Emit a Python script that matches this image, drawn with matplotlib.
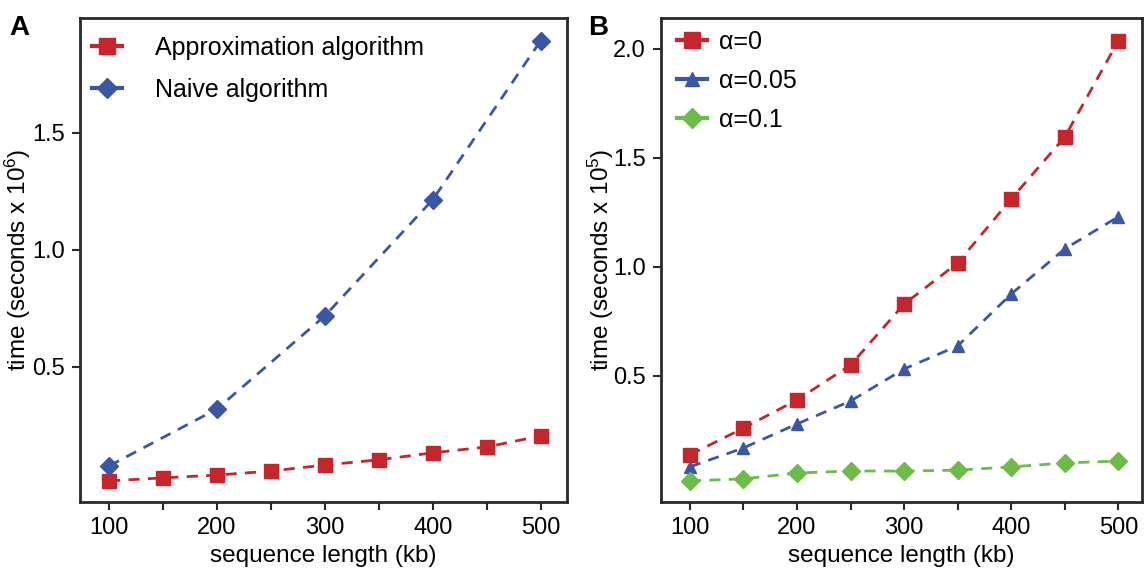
import numpy as np
import matplotlib
matplotlib.use("Agg")
import matplotlib.pyplot as plt

plt.rcParams['font.family'] = ['Liberation Sans', 'DejaVu Sans']
plt.rcParams['mathtext.default'] = 'regular'

# datos panel A (tiempo en segundos x 10^6)
len_naive = [100, 200, 300, 400, 500]
t_naive = [0.077, 0.32, 0.718, 1.214, 1.893]
len_aprox = [100, 150, 200, 250, 300, 350, 400, 450, 500]
t_aprox = [0.013, 0.026, 0.038, 0.055, 0.081, 0.103, 0.133, 0.158, 0.205]

# datos panel B (tiempo en segundos x 10^5)
len_b = [100, 150, 200, 250, 300, 350, 400, 450, 500]
t_a0 = [0.138, 0.261, 0.39, 0.55, 0.83, 1.018, 1.312, 1.596, 2.037]
t_a005 = [0.083, 0.17, 0.28, 0.385, 0.532, 0.638, 0.876, 1.083, 1.23]
t_a01 = [0.019, 0.028, 0.055, 0.064, 0.064, 0.068, 0.083, 0.101, 0.11]

xticks = [100, 150, 200, 250, 300, 350, 400, 450, 500]
xlabels = ['100', '', '200', '', '300', '', '400', '', '500']

rojo = '#c8242c'
azul = '#3a56a8'
verde = '#6bbd45'

fig = plt.figure(figsize=(11.47, 5.77), dpi=100)
axA = fig.add_axes([0.0697, 0.130, 0.4243, 0.839])
axB = fig.add_axes([0.5763, 0.130, 0.4193, 0.839])

def estilo(ax):
    for s in ax.spines.values():
        s.set_linewidth(2)
        s.set_color('#2a2a2a')
    ax.tick_params(direction='out', length=6, width=1.5, color='#2a2a2a', labelsize=17, pad=5)
    ax.set_xticks(xticks)
    ax.set_xticklabels(xlabels)
    ax.set_xlabel('sequence length (kb)', fontsize=17.5, labelpad=4)

def leyenda_solida(leg):
    # en la leyenda la linea se ve continua y mas gruesa
    for linea in leg.get_lines():
        linea.set_linestyle('-')
        linea.set_linewidth(3)

axA.plot(len_aprox, t_aprox, color=rojo, marker='s', markersize=10, linewidth=2,
         dashes=(4, 3), label='Approximation algorithm')
axA.plot(len_naive, t_naive, color=azul, marker='D', markersize=9, linewidth=2,
         dashes=(4, 3), label='Naive algorithm')
axA.set_xlim(73, 524)
axA.set_ylim(-0.077, 1.99)
axA.set_yticks([0.5, 1.0, 1.5])
axA.set_ylabel('time (seconds x 10$^6$)', fontsize=17.5)
axA.yaxis.set_label_coords(-0.097, 0.5)
estilo(axA)
legA = axA.legend(loc='upper left', bbox_to_anchor=(0.0, 0.988), frameon=False, fontsize=18,
                  handlelength=1.2, handletextpad=1.3, labelspacing=0.7, borderaxespad=0.3,
                  borderpad=0.2, markerscale=1.1)
leyenda_solida(legA)

axB.plot(len_b, t_a0, color=rojo, marker='s', markersize=10, linewidth=2,
         dashes=(4, 3), label='α=0')
axB.plot(len_b, t_a005, color=azul, marker='^', markersize=9, linewidth=2,
         dashes=(4, 3), label='α=0.05')
axB.plot(len_b, t_a01, color=verde, marker='D', markersize=9, linewidth=2,
         dashes=(4, 3), label='α=0.1')
axB.set_xlim(73, 522)
axB.set_ylim(-0.078, 2.142)
axB.set_yticks([0.5, 1.0, 1.5, 2.0])
axB.set_ylabel('time (seconds x 10$^5$)', fontsize=17.5)
axB.yaxis.set_label_coords(-0.094, 0.5)
estilo(axB)
legB = axB.legend(loc='upper left', bbox_to_anchor=(0.017, 0.99), frameon=False, fontsize=18,
                  handlelength=1.2, handletextpad=0.5, labelspacing=0.6, borderaxespad=0.1,
                  borderpad=0.2, markerscale=1.1)
leyenda_solida(legB)

fig.text(0.008, 0.974, 'A', fontsize=20, fontweight='bold', va='top')
fig.text(0.513, 0.974, 'B', fontsize=20, fontweight='bold', va='top')

plt.savefig('out.png', dpi=100)
